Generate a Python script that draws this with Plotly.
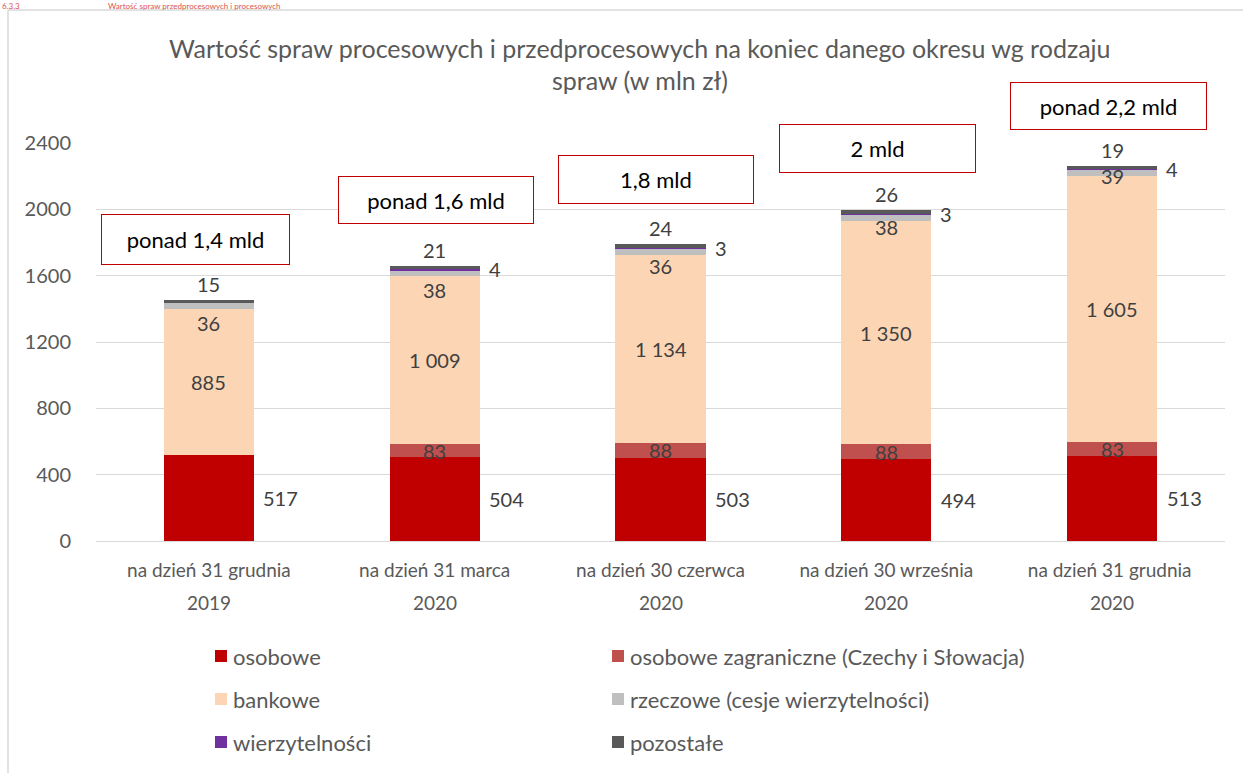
import plotly.graph_objects as go

# ---------------- data ----------------
cat_line1 = ["na dzień 31 grudnia", "na dzień 31 marca", "na dzień 30 czerwca",
             "na dzień 30 września", "na dzień 31 grudnia "]
cat_year = ["2019", "2020", "2020", "2020", "2020"]

osobowe = [517, 504, 503, 494, 513]
zagraniczne = [None, 83, 88, 88, 83]
bankowe = [885, 1009, 1134, 1350, 1605]
rzeczowe = [36, 38, 36, 38, 39]
wierzytelnosci = [None, 4, 3, 3, 4]
pozostale = [15, 21, 24, 26, 19]

box_texts = ["ponad 1,4 mld", "ponad 1,6 mld", "1,8 mld", "2 mld", "ponad 2,2 mld"]

series_names = ["osobowe", "osobowe zagraniczne (Czechy i Słowacja)", "bankowe",
                "rzeczowe (cesje wierzytelności)", "wierzytelności", "pozostałe"]
yticks = [0, 400, 800, 1200, 1600, 2000, 2400]

# ---------------- style ----------------
colors = ["#C00000", "#C0504D", "#FCD5B5", "#BFBFBF", "#7030A0", "#595959"]
FONT = "Lato"
W, H = 1243, 773
L, R, T, B = 96, 1225, 143, 541


def px(x):
    return (x - L) / (R - L)


def py(y):
    return (B - y) / (B - T)


cats = [f"c{i}" for i in range(len(cat_line1))]
series = [osobowe, zagraniczne, bankowe, rzeczowe, wierzytelnosci, pozostale]

fig = go.Figure()
for name, vals, col in zip(series_names, series, colors):
    fig.add_trace(go.Bar(x=cats, y=[v if v is not None else 0 for v in vals],
                         name=name, marker=dict(color=col, line=dict(width=0)),
                         showlegend=False, hoverinfo="skip"))

ann = []
lab_font = dict(family=FONT, size=20, color="#404040")


def fmt(v):
    return f"{v:,}".replace(",", " ")


rz_dy = [-17, -17, -14, -10, -3]
for i, c in enumerate(cats):
    o = osobowe[i]
    z = zagraniczne[i] or 0
    b = bankowe[i]
    r = rzeczowe[i]
    w = wierzytelnosci[i] or 0
    p = pozostale[i]
    ann.append(dict(x=c, y=o / 2, xref="x", yref="y", text=fmt(o), showarrow=False,
                    xshift=72, font=lab_font))
    if zagraniczne[i] is not None:
        ann.append(dict(x=c, y=o + z / 2, xref="x", yref="y", text=fmt(z), showarrow=False,
                        font=lab_font))
    ann.append(dict(x=c, y=o + z + b / 2, xref="x", yref="y", text=fmt(b), showarrow=False,
                    font=lab_font))
    ann.append(dict(x=c, y=o + z + b + r / 2, xref="x", yref="y", text=fmt(r), showarrow=False,
                    yshift=rz_dy[i], font=lab_font))
    if wierzytelnosci[i] is not None:
        ann.append(dict(x=c, y=o + z + b + r + w, xref="x", yref="y", text=fmt(w),
                        showarrow=False, xshift=60, font=lab_font))
    ann.append(dict(x=c, y=o + z + b + r + w + p, xref="x", yref="y", text=fmt(p),
                    showarrow=False, yshift=16, font=lab_font))
    # year line of category label
    ann.append(dict(x=c, y=py(602), xref="x", yref="paper", text=cat_year[i],
                    showarrow=False, xanchor="center", yanchor="middle",
                    font=dict(family=FONT, size=19, color="#595959")))

# boxes with totals
boxes = [(195, 239.5, 189, 51), (436, 200, 196, 48), (656, 179.5, 196, 49),
         (877.5, 148.5, 197, 49), (1108, 106, 197, 48)]
for t, (bx, by, bw, bh) in zip(box_texts, boxes):
    ann.append(dict(x=px(bx), y=py(by), xref="paper", yref="paper", text=t,
                    showarrow=False, xanchor="center", yanchor="middle",
                    width=bw - 2, height=bh - 2, borderpad=0, borderwidth=1,
                    bordercolor="#C00000", bgcolor="white",
                    font=dict(family=FONT, size=22, color="#000000")))

# title (two lines)
tfont = dict(family=FONT, size=25, color="#595959")
ann.append(dict(x=px(640), y=py(48), xref="paper", yref="paper", showarrow=False,
                text="Wartość spraw procesowych i przedprocesowych na koniec danego okresu wg rodzaju",
                font=tfont, xanchor="center", yanchor="middle"))
ann.append(dict(x=px(640), y=py(80), xref="paper", yref="paper", showarrow=False,
                text="spraw (w mln zł)", font=tfont, xanchor="center", yanchor="middle"))

# section header above the frame
hfont = dict(family=FONT, size=8, color="#D9534F")
ann.append(dict(x=px(1), y=py(0.5), xref="paper", yref="paper", showarrow=False, text="6.3.3",
                font=hfont, xanchor="left", yanchor="top", borderpad=0))
ann.append(dict(x=px(107), y=py(0.5), xref="paper", yref="paper", showarrow=False,
                text="Wartość spraw przedprocesowych i procesowych",
                font=hfont, xanchor="left", yanchor="top", borderpad=0))

# manual legend
shapes = []
leg_pos = [(215, 656), (612, 656), (215, 699), (612, 699), (215, 742), (612, 742)]
for name, col, (lx, ly) in zip(series_names, colors, leg_pos):
    shapes.append(dict(type="rect", xref="paper", yref="paper",
                       x0=px(lx), x1=px(lx + 12), y0=py(ly - 6), y1=py(ly + 6),
                       fillcolor=col, line=dict(width=0)))
    ann.append(dict(x=px(lx + 16), y=py(ly), xref="paper", yref="paper", showarrow=False,
                    text=name, xanchor="left", yanchor="middle",
                    font=dict(family=FONT, size=22, color="#595959")))

# outer frame
shapes.append(dict(type="line", xref="paper", yref="paper", x0=px(8), x1=px(8),
                   y0=py(10), y1=py(790), line=dict(color="#D9D9D9", width=1.5)))
shapes.append(dict(type="line", xref="paper", yref="paper", x0=px(8), x1=px(1260),
                   y0=py(10), y1=py(10), line=dict(color="#D9D9D9", width=1.5)))

fig.update_layout(
    width=W, height=H, barmode="stack", bargap=0.6,
    margin=dict(l=L, r=W - R, t=T, b=H - B, autoexpand=False),
    paper_bgcolor="white", plot_bgcolor="white",
    annotations=ann, shapes=shapes, showlegend=False,
    font=dict(family=FONT, size=20, color="#595959"),
)
fig.update_xaxes(tickvals=cats, ticktext=cat_line1, showgrid=False, showline=False,
                 ticks="", tickfont=dict(family=FONT, size=19, color="#595959"),
                 ticklabelstandoff=16)
fig.update_yaxes(range=[0, 2400], tickvals=yticks, showgrid=True, gridcolor="#D9D9D9",
                 gridwidth=1, zeroline=True, zerolinecolor="#D9D9D9", zerolinewidth=1,
                 showline=False, ticks="", tickfont=dict(family=FONT, size=20, color="#595959"),
                 ticklabelstandoff=24)

fig.write_html("out.html", config={"displayModeBar": False},
               post_script="document.body.style.margin='0px';")
